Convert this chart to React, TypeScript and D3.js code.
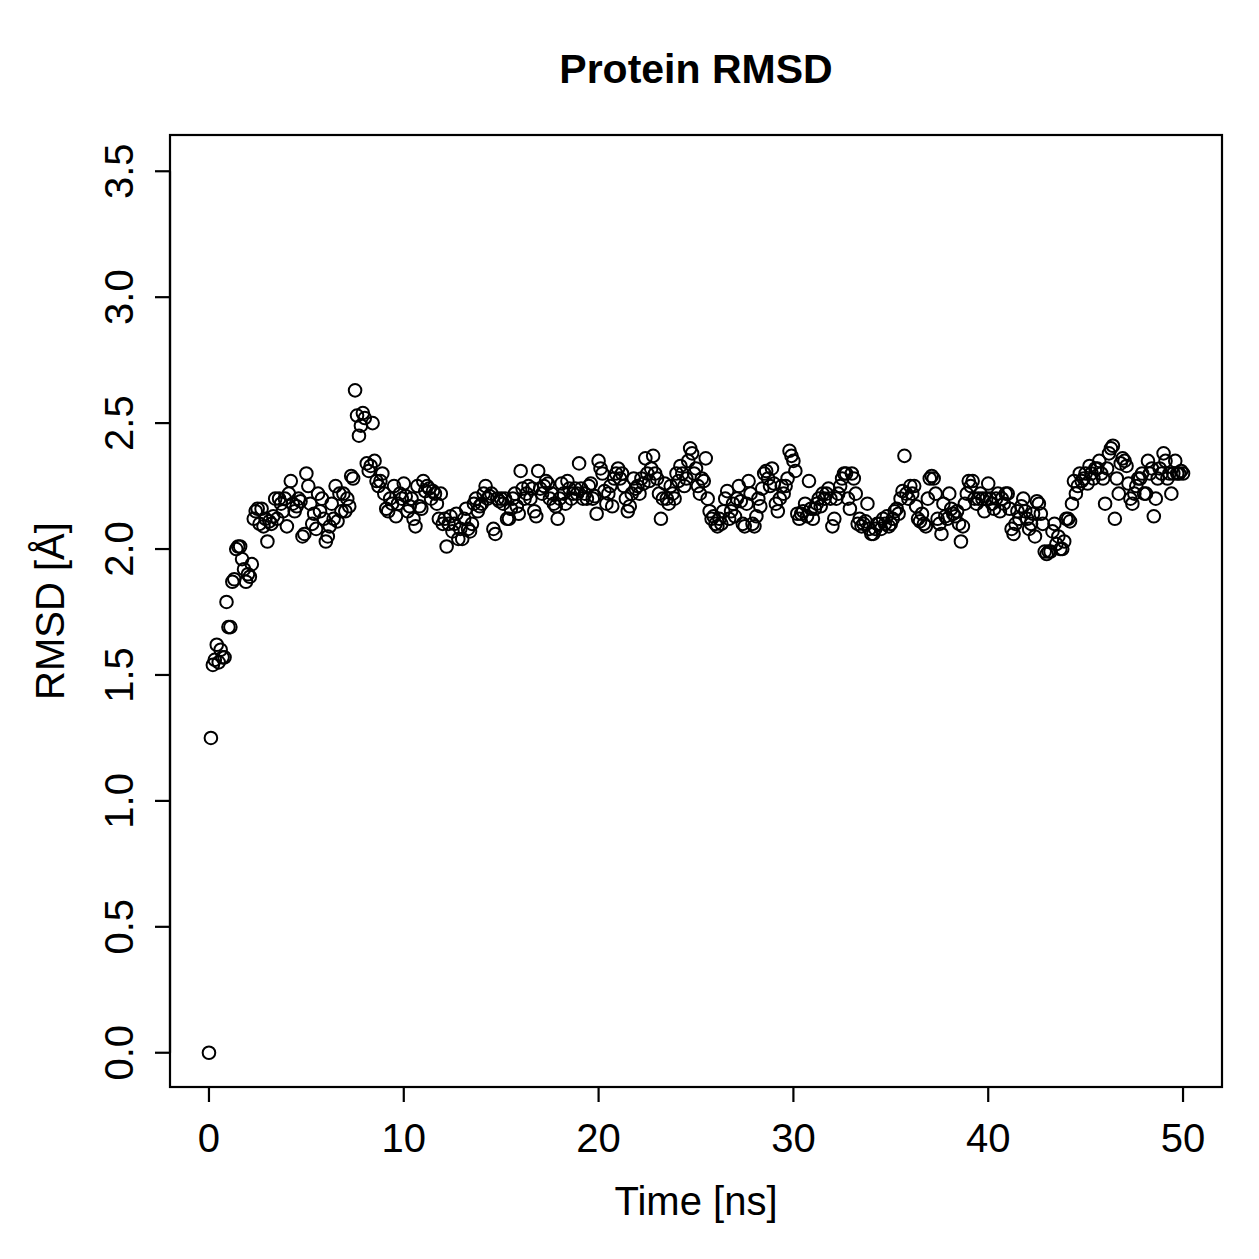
import React from "react";
import * as d3 from "d3";

const title = "Protein RMSD";
const xLabel = "Time [ns]";
const yLabel = "RMSD [Å]";
const xTicks = [0, 10, 20, 30, 40, 50];
const yTicks = [0, 0.5, 1, 1.5, 2, 2.5, 3, 3.5];
const timeStep = 0.1;

// RMSD values (Å), one every 0.1 ns from 0 to 50 ns
const rmsd: number[] = [
  0.00, 1.25, 1.54, 1.56, 1.62, 1.55, 1.60, 1.57, 1.57, 1.79,
  1.69, 1.69, 1.87, 1.88, 2.00, 2.01, 2.01, 1.96, 1.92, 1.87,
  1.90, 1.89, 1.94, 2.12, 2.15, 2.16, 2.10, 2.16, 2.09, 2.12,
  2.03, 2.11, 2.10, 2.13, 2.20, 2.12, 2.20, 2.18, 2.15, 2.20,
  2.09, 2.22, 2.27, 2.18, 2.15, 2.17, 2.20, 2.19, 2.05, 2.06,
  2.30, 2.25, 2.18, 2.10, 2.14, 2.08, 2.22, 2.15, 2.20, 2.12,
  2.03, 2.05, 2.09, 2.18, 2.12, 2.25, 2.11, 2.22, 2.15, 2.22,
  2.15, 2.20, 2.17, 2.29, 2.28, 2.63, 2.53, 2.45, 2.49, 2.54,
  2.52, 2.34, 2.31, 2.33, 2.50, 2.35, 2.27, 2.25, 2.27, 2.30,
  2.22, 2.16, 2.15, 2.20, 2.18, 2.25, 2.13, 2.18, 2.22, 2.20,
  2.26, 2.21, 2.15, 2.17, 2.20, 2.12, 2.09, 2.25, 2.17, 2.16,
  2.27, 2.23, 2.25, 2.24, 2.20, 2.23, 2.22, 2.18, 2.12, 2.22,
  2.10, 2.12, 2.01, 2.10, 2.13, 2.07, 2.10, 2.14, 2.04, 2.08,
  2.04, 2.12, 2.16, 2.08, 2.07, 2.10, 2.18, 2.20, 2.15, 2.17,
  2.18, 2.22, 2.25, 2.20, 2.21, 2.22, 2.08, 2.06, 2.20, 2.19,
  2.20, 2.18, 2.20, 2.12, 2.12, 2.16, 2.20, 2.22, 2.17, 2.14,
  2.31, 2.24, 2.20, 2.22, 2.25, 2.20, 2.24, 2.15, 2.13, 2.31,
  2.24, 2.22, 2.25, 2.27, 2.26, 2.20, 2.22, 2.18, 2.17, 2.12,
  2.20, 2.26, 2.22, 2.18, 2.27, 2.24, 2.20, 2.22, 2.24, 2.22,
  2.34, 2.24, 2.20, 2.22, 2.20, 2.25, 2.26, 2.20, 2.21, 2.14,
  2.35, 2.32, 2.30, 2.23, 2.18, 2.22, 2.25, 2.17, 2.28, 2.30,
  2.32, 2.28, 2.30, 2.25, 2.20, 2.15, 2.17, 2.22, 2.28, 2.24,
  2.25, 2.22, 2.28, 2.26, 2.36, 2.30, 2.27, 2.32, 2.37, 2.30,
  2.28, 2.22, 2.12, 2.20, 2.26, 2.20, 2.18, 2.25, 2.22, 2.20,
  2.30, 2.27, 2.33, 2.30, 2.25, 2.28, 2.35, 2.40, 2.38, 2.30,
  2.32, 2.25, 2.22, 2.28, 2.27, 2.36, 2.20, 2.15, 2.12, 2.13,
  2.10, 2.09, 2.12, 2.10, 2.15, 2.20, 2.23, 2.12, 2.15, 2.18,
  2.13, 2.20, 2.25, 2.19, 2.10, 2.09, 2.18, 2.27, 2.22, 2.10,
  2.09, 2.13, 2.20, 2.17, 2.24, 2.30, 2.31, 2.28, 2.25, 2.32,
  2.26, 2.18, 2.15, 2.20, 2.25, 2.22, 2.25, 2.28, 2.39, 2.37,
  2.35, 2.31, 2.14, 2.12, 2.14, 2.15, 2.18, 2.13, 2.27, 2.16,
  2.12, 2.16, 2.18, 2.20, 2.17, 2.22, 2.20, 2.22, 2.24, 2.20,
  2.09, 2.12, 2.20, 2.22, 2.25, 2.28, 2.30, 2.30, 2.20, 2.16,
  2.30, 2.28, 2.22, 2.10, 2.12, 2.09, 2.10, 2.11, 2.18, 2.08,
  2.06, 2.06, 2.08, 2.10, 2.10, 2.08, 2.12, 2.10, 2.13, 2.09,
  2.10, 2.12, 2.15, 2.16, 2.14, 2.20, 2.23, 2.37, 2.22, 2.20,
  2.25, 2.22, 2.25, 2.17, 2.12, 2.11, 2.14, 2.10, 2.09, 2.20,
  2.28, 2.29, 2.28, 2.22, 2.12, 2.10, 2.06, 2.18, 2.13, 2.12,
  2.22, 2.16, 2.14, 2.13, 2.15, 2.10, 2.03, 2.09, 2.18, 2.22,
  2.27, 2.25, 2.27, 2.20, 2.18, 2.20, 2.22, 2.20, 2.15, 2.20,
  2.26, 2.20, 2.18, 2.16, 2.20, 2.22, 2.15, 2.20, 2.18, 2.22,
  2.22, 2.16, 2.08, 2.06, 2.10, 2.15, 2.12, 2.17, 2.20, 2.15,
  2.12, 2.08, 2.10, 2.14, 2.05, 2.19, 2.18, 2.14, 2.10, 1.99,
  1.98, 1.99, 1.99, 2.07, 2.10, 2.02, 2.05, 2.00, 2.00, 2.03,
  2.12, 2.12, 2.11, 2.18, 2.27, 2.22, 2.25, 2.30, 2.27, 2.28,
  2.30, 2.26, 2.33, 2.30, 2.28, 2.32, 2.32, 2.35, 2.30, 2.28,
  2.18, 2.32, 2.38, 2.40, 2.41, 2.12, 2.28, 2.22, 2.34, 2.36,
  2.35, 2.33, 2.26, 2.20, 2.18, 2.22, 2.25, 2.28, 2.28, 2.30,
  2.22, 2.22, 2.35, 2.30, 2.32, 2.13, 2.20, 2.28, 2.32, 2.30,
  2.38, 2.35, 2.28, 2.30, 2.22, 2.30, 2.35, 2.30, 2.30, 2.31,
  2.30,
];

const W = 1259;
const H = 1259;
const left = 170;
const right = 1222;
const top = 135;
const bottom = 1087;
const FONT = "'Liberation Sans', Arial, Helvetica, sans-serif";

export default function App() {
  const x = d3.scaleLinear().domain([-2, 52]).range([left, right]);
  const y = d3.scaleLinear().domain([-0.14, 3.64]).range([bottom + 1, top + 1]);
  const fmtY = (v: number) => d3.format(".1f")(v);
  const stroke = 2.2;
  const fs = 40;

  return (
    <svg
      width={W}
      height={H}
      style={{ position: "absolute", left: 0, top: 0, background: "#fff" }}
      fontFamily={FONT}
    >
      <rect x={0} y={0} width={W} height={H} fill="#fff" />
      <text x={(left + right) / 2} y={83} textAnchor="middle" fontSize={41} fontWeight="bold">
        {title}
      </text>
      {/* points */}
      <g fill="none" stroke="#000" strokeWidth={2}>
        {rmsd.map((v, i) => (
          <circle key={i} cx={x(i * timeStep)} cy={y(v)} r={6.3} />
        ))}
      </g>
      {/* box */}
      <rect
        x={left}
        y={top}
        width={right - left}
        height={bottom - top}
        fill="none"
        stroke="#000"
        strokeWidth={stroke}
      />
      {/* x axis */}
      <g stroke="#000" strokeWidth={stroke}>
        <line x1={x(xTicks[0])} x2={x(xTicks[xTicks.length - 1])} y1={bottom} y2={bottom} />
        {xTicks.map((t) => (
          <line key={t} x1={x(t)} x2={x(t)} y1={bottom} y2={bottom + 15} />
        ))}
      </g>
      {xTicks.map((t) => (
        <text key={t} x={x(t)} y={1152} textAnchor="middle" fontSize={fs}>
          {t}
        </text>
      ))}
      {/* y axis */}
      <g stroke="#000" strokeWidth={stroke}>
        <line x1={left} x2={left} y1={y(yTicks[0])} y2={y(yTicks[yTicks.length - 1])} />
        {yTicks.map((t) => (
          <line key={t} x1={left} x2={left - 15} y1={y(t)} y2={y(t)} />
        ))}
      </g>
      {yTicks.map((t) => (
        <text
          key={t}
          transform={`translate(${133},${y(t)}) rotate(-90)`}
          textAnchor="middle"
          fontSize={fs}
        >
          {fmtY(t)}
        </text>
      ))}
      <text x={(left + right) / 2} y={1215} textAnchor="middle" fontSize={fs}>
        {xLabel}
      </text>
      <text
        transform={`translate(${64},${(top + bottom) / 2}) rotate(-90)`}
        textAnchor="middle"
        fontSize={fs}
      >
        {yLabel}
      </text>
    </svg>
  );
}
